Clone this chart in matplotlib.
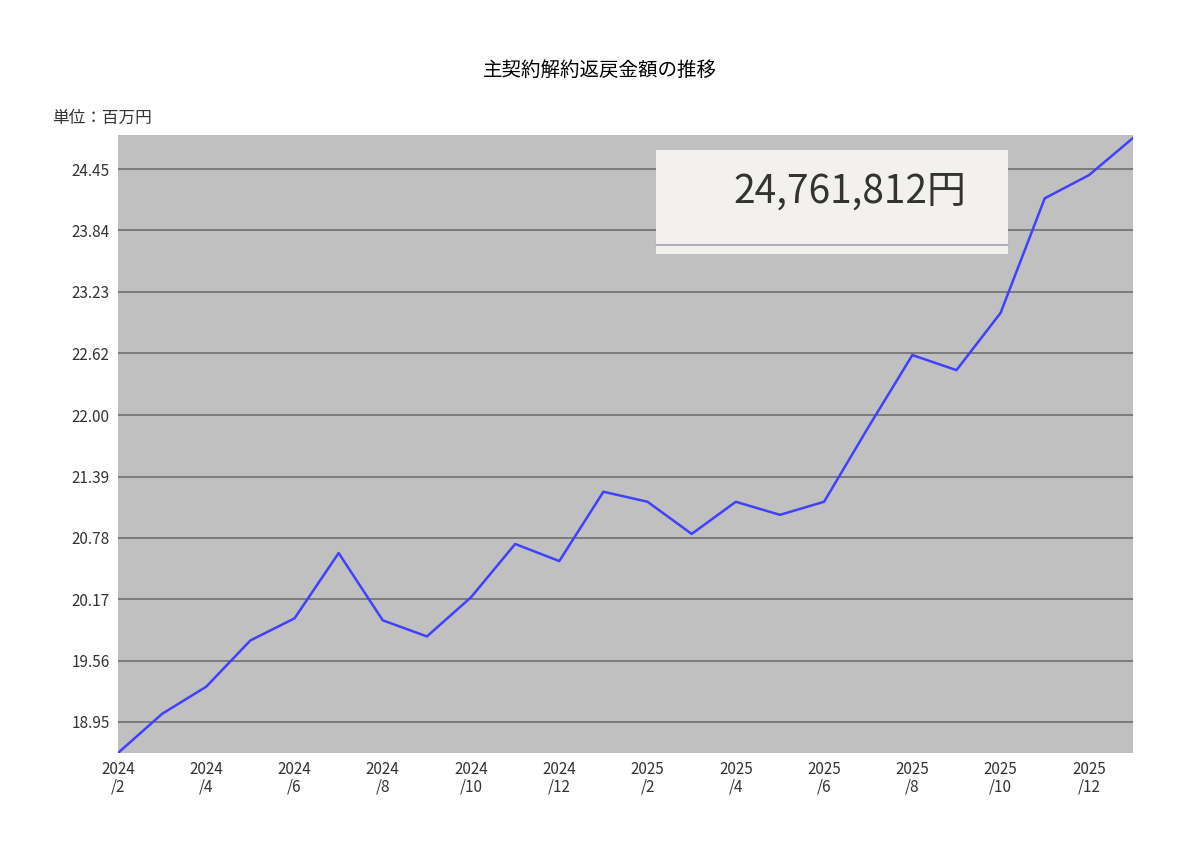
import matplotlib
matplotlib.use("Agg")
import matplotlib.pyplot as plt
from matplotlib.patches import Rectangle

plt.rcParams['font.family'] = ['Noto Sans CJK JP', 'DejaVu Sans']

values = [18.64, 19.03, 19.30, 19.76, 19.98, 20.63, 19.96, 19.80, 20.19, 20.72, 20.55,
          21.24, 21.14, 20.82, 21.14, 21.01, 21.14, 21.88, 22.60, 22.45, 23.02, 24.16, 24.39, 24.76]
yticks = [18.95, 19.56, 20.17, 20.78, 21.39, 22.00, 22.62, 23.23, 23.84, 24.45]
xtick_labels = ["2024\n/2", "2024\n/4", "2024\n/6", "2024\n/8", "2024\n/10", "2024\n/12",
                "2025\n/2", "2025\n/4", "2025\n/6", "2025\n/8", "2025\n/10", "2025\n/12"]
title = "主契約解約返戻金額の推移"
unit = "単位：百万円"
overlay = "24,761,812円"

fig = plt.figure(figsize=(12, 8.51), dpi=100)
ax = fig.add_axes([118/1200, 1-753/851, (1133-118)/1200, (753-135)/851])
ax.set_facecolor("#c0c0c0")
x = list(range(len(values)))
ax.plot(x, values, color="#4040ff", lw=1.8, zorder=3)
ax.set_xlim(0, len(values)-1)
ax.set_ylim(18.64, 24.79)
ax.set_yticks(yticks)
ax.set_yticklabels([f"{v:.2f}" for v in yticks], fontsize=11, color="#333333")
ax.set_xticks(x[::2])
ax.set_xticklabels(xtick_labels, fontsize=11, color="#333333", linespacing=1.0)
ax.grid(axis="y", color="#707070", lw=1.2)
ax.tick_params(length=0, pad=6)
for s in ax.spines.values():
    s.set_visible(False)

fig.text(0.5, 1-70/851, title, ha="center", va="center", fontsize=14)
fig.text(52/1200, 1-118/851, unit, ha="left", va="center", fontsize=12, color="#333333")

fig.patches.append(Rectangle((656/1200, 1-254/851), (1008-656)/1200, (254-150)/851,
                             transform=fig.transFigure, facecolor="#f2f1ed", edgecolor="none", zorder=5))
fig.lines.append(plt.Line2D([656/1200, 1008/1200], [1-245/851]*2, transform=fig.transFigure,
                            color="#b8b0b8", lw=1.5, zorder=6))
fig.text(850/1200, 1-192/851, overlay, ha="center", va="center", fontsize=28, color="#333333", zorder=7)

fig.savefig("out.png", dpi=100)
